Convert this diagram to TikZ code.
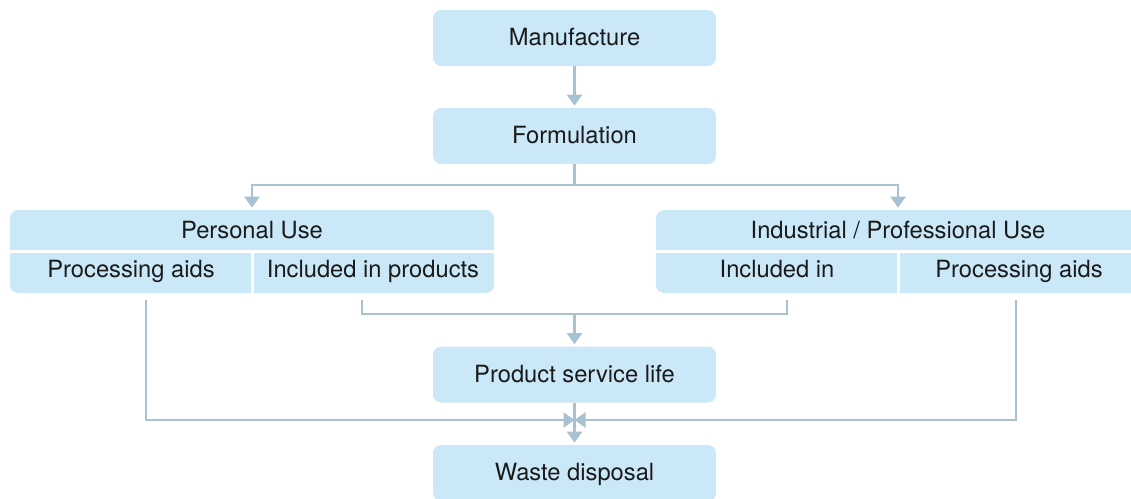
\documentclass[tikz,border=0pt]{standalone}
\usepackage{fontspec}
\setmainfont{TeX Gyre Heros}
\usetikzlibrary{arrows.meta}
\definecolor{boxblue}{HTML}{CBE8F8}
\definecolor{linegrey}{HTML}{A8C2D2}
\definecolor{ink}{HTML}{1A1A1A}
\tikzset{
  box/.style={rectangle,rounded corners=0.16cm,fill=boxblue,minimum width=5.66cm,minimum height=1.12cm,inner sep=0pt,text=ink,font=\fontsize{13.5}{16}\selectfont,text height=0.9em,text depth=0pt},
  bigbox/.style={rectangle,rounded corners=0.16cm,fill=boxblue,minimum width=9.68cm,minimum height=1.66cm,inner sep=0pt},
  lbl/.style={inner sep=0pt,text=ink,font=\fontsize{13.5}{16}\selectfont,text height=0.9em,text depth=0pt},
  divider/.style={white,line width=0.06cm},
  line/.style={linegrey,line width=0.05cm},
  conn/.style={line,-{Triangle[width=0.3cm,length=0.22cm]},shorten >=0.04cm},
  meet/.style={line,-{Triangle[width=0.3cm,length=0.22cm]}}
}
\begin{document}
\begin{tikzpicture}[x=0.02cm,y=-0.02cm]
\useasboundingbox (0,0) rectangle (1131,498);
\clip (0,0) rectangle (1131,498);
%main chain
\node[box] (man) at (574.5,38) {Manufacture};
\node[box] (form) at (574.5,136) {Formulation};
\node[box] (psl) at (574.5,374.5) {Product service life};
\node[box] (waste) at (574.5,473) {Waste disposal};
%use boxes
\node[bigbox] (pers) at (252,251.5) {};
\node[bigbox] (ind) at (898,251.5) {};
\draw[divider] (pers.west) -- (pers.east) (pers.center) -- (pers.south);
\draw[divider] (ind.west) -- (ind.east) (ind.center) -- (ind.south);
\node[lbl] (persT) at (252,231) {Personal Use};
\node[lbl] (persA) at (131,270) {Processing aids};
\node[lbl] (persP) at (373,270) {Included in products};
\node[lbl] (indT) at (898,231) {Industrial / Professional Use};
\node[lbl] (indP) at (777,270) {Included in};
\node[lbl] (indA) at (1019,270) {Processing aids};
%connectors
\coordinate (fork) at (574.5,185);
\coordinate (pa1) at (146,300);
\coordinate (ip1) at (362,300);
\coordinate (ip2) at (787,300);
\coordinate (pa2) at (1016,300);
\coordinate (merge) at (574.5,314);
\coordinate (join) at (574.5,420);
\draw[conn] (man) -- (form);
\draw[line] (form) -- (fork);
\draw[conn] (fork) -| (pers);
\draw[conn] (fork) -| (ind);
\draw[line] (ip1) |- (merge) -| (ip2);
\draw[conn] (merge) -- (psl);
\draw[conn] (psl) -- (waste);
\draw[meet] (pa1) |- (join);
\draw[meet] (pa2) |- (join);
\end{tikzpicture}
\end{document}
